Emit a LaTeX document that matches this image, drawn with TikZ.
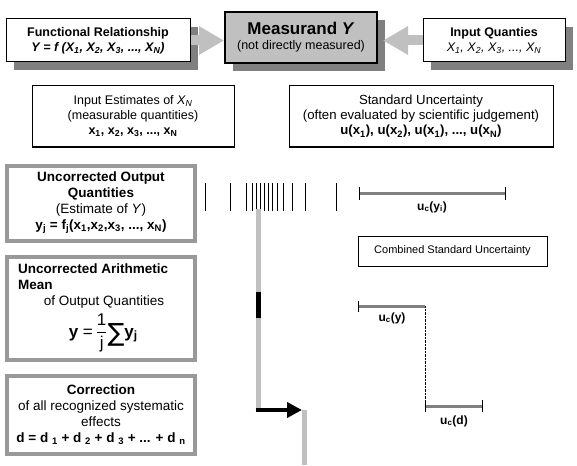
\documentclass[tikz,border=0pt]{standalone}
\usepackage{fontspec}
\setmainfont{Liberation Sans}
\newfontfamily\sumfont{DejaVu Sans}
\usepackage{tikz}
\usetikzlibrary{arrows.meta,shadows}
\definecolor{shade}{RGB}{128,128,128}
\definecolor{measgray}{RGB}{192,192,192}
\definecolor{arrowgray}{RGB}{192,192,192}
\definecolor{framegray}{RGB}{153,153,153}
\definecolor{bargray}{RGB}{128,128,128}

\begin{document}
\begin{tikzpicture}[x=1pt,y=-1pt,
  box/.style={draw,fill=white,line width=1pt,inner sep=0pt,align=center},
  shadowbox/.style={box,drop shadow={shadow xshift=8pt,shadow yshift=-8pt,fill=shade,opacity=1}},
  framebox/.style={draw=framegray,fill=white,line width=4pt,inner sep=0pt,align=center,
    minimum width=188pt},
  blockarrow/.style={draw=arrowgray,line width=10pt,-{Triangle[length=25pt,width=27pt]}},
  stream/.style={draw=arrowgray,line width=5pt},
  bar/.style={draw=bargray,line width=3pt},
  txt/.style={font=\fontsize{12.5}{15}\selectfont},
  bigtxt/.style={font=\fontsize{13.5}{16}\selectfont},
  lbl/.style={font=\fontsize{12}{14}\selectfont\bfseries}]
\useasboundingbox (0,0) rectangle (577,465);

% top row
\node[shadowbox,minimum width=184pt,minimum height=43pt,txt] (func) at (98,40.5)
  {\textbf{Functional Relationship}\\
   {\bfseries\itshape Y = f (X\textsubscript{1}, X\textsubscript{2}, X\textsubscript{3}, ..., X\textsubscript{N})}};
\node[shadowbox,fill=measgray,line width=2pt,minimum width=152pt,minimum height=51pt,txt] (meas) at (301,37.5)
  {{\fontsize{17}{20}\selectfont\bfseries Measurand \textit{Y}}\\(not directly measured)};
\node[shadowbox,minimum width=142pt,minimum height=43pt,txt] (inp) at (494,40.5)
  {\textbf{Input Quanties}\\
   \textit{X\textsubscript{1}, X\textsubscript{2}, X\textsubscript{3}, ..., X\textsubscript{N}}};
\draw[blockarrow] (func.east) -- (func.east -| meas.west);
\draw[blockarrow] (inp.west) -- ([xshift=5pt]inp.west -| meas.east);

% second row
\node[box,minimum width=202pt,minimum height=61pt,txt] (est) at (133,116.5)
  {Input Estimates of \textit{X\textsubscript{N}}\\(measurable quantities)\\
   \textbf{x\textsubscript{1}, x\textsubscript{2}, x\textsubscript{3}, ..., x\textsubscript{N}}};
\node[box,minimum width=264pt,minimum height=61pt,font=\fontsize{13.2}{15}\selectfont] (stdu) at (421,116.5)
  {Standard Uncertainty\\(often evaluated by scientific judgement)\\
   \textbf{u(x\textsubscript{1}), u(x\textsubscript{2}), u(x\textsubscript{1}), ..., u(x\textsubscript{N})}};

% left column
\node[framebox,minimum height=75pt,bigtxt] (outq) at (101,203)
  {\textbf{Uncorrected Output}\\\textbf{Quantities}\\(Estimate of \textit{Y})\\
   \textbf{y\textsubscript{j} = f\textsubscript{j}(x\textsubscript{1},x\textsubscript{2},x\textsubscript{3}, ..., x\textsubscript{N})}};
\node[framebox,minimum height=103pt] (mean) at (101,308.5) {};
\node[anchor=north west,align=left,inner sep=0pt,bigtxt] (meantitle) at (18,264)
  {\textbf{Uncorrected Arithmetic}\\\textbf{Mean}};
\node[bigtxt,inner sep=0pt] (meansub) at (104,302) {of Output Quantities};
\node[inner sep=0pt,font=\fontsize{17}{20}\selectfont] (meanformula) at (103,333)
  {\textbf{y} =\,$\displaystyle\frac{\mbox{1}}{\mbox{j}}$\raisebox{-4pt}{\sumfont\fontsize{25}{25}\selectfont ∑}\textbf{y}\raisebox{-2pt}{\fontsize{12}{12}\selectfont\textbf{j}}};
\node[framebox,minimum height=78pt,bigtxt] (corr) at (101,415)
  {\textbf{Correction}\\of all recognized systematic\\effects\\
   \textbf{d = d \textsubscript{1} + d \textsubscript{2} + d \textsubscript{3} + ... + d \textsubscript{n}}};

% single observations and the stream
\foreach \x in {205,230,246,252,256,260,264,268,272,277,283,292,305,336}
  \draw (\x,183) -- (\x,211);
\coordinate (s1) at (258,209);
\coordinate (s2) at (258,410);
\coordinate (s3) at (304,410);
\coordinate (s4) at (304,465);
\draw[stream] (s1) -- (s2);
\draw[line width=5pt] (258,292) -- (258,318);
\draw[line width=4pt,-{Triangle[length=15pt,width=15pt]}] ([xshift=-2.5pt]s2) -- ([xshift=-2pt]s3);
\draw[stream] (s3) -- (s4);

% uncertainties
\coordinate (uyi1) at (359,193);
\coordinate (uyi2) at (505,193);
\draw[bar] (uyi1) -- (uyi2);
\draw (uyi1) ++(0,-6) -- ++(0,13);
\draw (uyi2) ++(0,-6) -- ++(0,13);
\node[lbl] (uyilabel) at (432,207) {u\textsubscript{c}(y\textsubscript{i})};
\node[box,minimum width=189pt,minimum height=30pt,font=\fontsize{11}{13}\selectfont] (comb) at (452.5,251)
  {Combined Standard Uncertainty};
\coordinate (uy1) at (358,306);
\coordinate (uy2) at (425,306);
\draw[bar] (uy1) -- (uy2);
\draw (uy1) ++(0,-5) -- ++(0,11);
\node[lbl] (uylabel) at (392,318) {u\textsubscript{c}(y)};
\coordinate (ud1) at (425,406);
\coordinate (ud2) at (482,406);
\draw[densely dotted] (uy2) -- (ud1);
\draw[bar] (ud1) -- (ud2);
\draw (ud1) ++(0,-6) -- ++(0,12);
\draw (ud2) ++(0,-6) -- ++(0,12);
\node[lbl] (udlabel) at (454,421) {u\textsubscript{c}(d)};
\end{tikzpicture}
\end{document}
